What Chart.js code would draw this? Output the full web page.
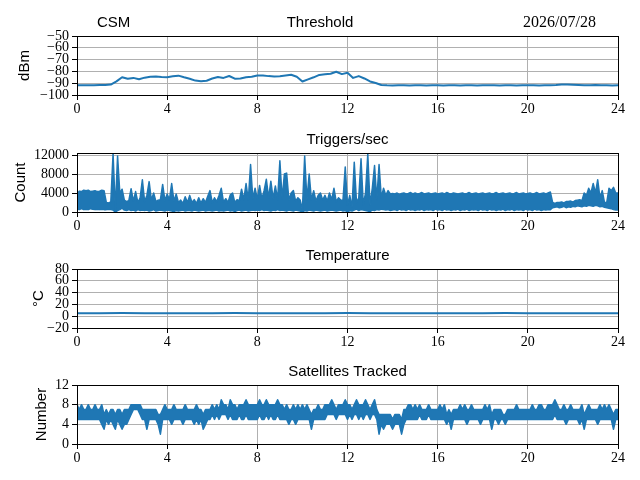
<!DOCTYPE html>
<html>
<head>
<meta charset="utf-8">
<script src="https://cdn.jsdelivr.net/npm/chart.js@4/dist/chart.umd.min.js"></script>
<style>
    body { margin: 0; background: #fff; }
    #wrap { position: relative; width: 640px; height: 480px; }
    canvas { position: absolute; left: 0; }
</style>
</head>
<body>
<div id="wrap">
    <canvas id="c0" width="640" height="116" style="top:0px"></canvas>
    <canvas id="c1" width="640" height="116" style="top:117px"></canvas>
    <canvas id="c2" width="640" height="116" style="top:233px"></canvas>
    <canvas id="c3" width="640" height="116" style="top:349px"></canvas>
</div>
<script>
// Eix horitzontal (hores del dia)
const hourTicks = [0, 4, 8, 12, 16, 20, 24];

// Threshold (dBm), una mostra cada 0.25 h
const thresholdStep = 0.25;
const thresholdValues = [
    -91.7, -91.8, -91.7, -91.8, -91.6, -91.5, -91.2, -88.5, -85.0, -86.3,
    -85.5, -86.6, -85.3, -84.5, -84.4, -84.8, -84.9, -84.2, -83.6, -85.0,
    -86.2, -87.8, -88.3, -87.9, -86.0, -84.8, -85.5, -83.9, -86.2, -86.0,
    -85.0, -84.5, -83.4, -83.5, -84.0, -84.3, -84.1, -83.5, -82.8, -84.5,
    -88.6, -86.8, -85.0, -83.0, -82.5, -82.0, -80.3, -82.3, -81.2, -85.5,
    -84.0, -86.0, -88.5, -89.8, -91.5, -91.8, -91.9, -91.7, -91.8, -91.9,
    -91.8, -91.7, -91.9, -91.8, -91.8, -91.9, -91.7, -91.8, -91.9, -91.8,
    -91.8, -91.9, -91.7, -91.8, -91.8, -91.9, -91.8, -91.7, -91.9, -91.8,
    -91.8, -91.7, -91.9, -91.8, -91.7, -91.6, -91.2, -91.1, -91.3, -91.5,
    -91.7, -91.8, -91.6, -91.7, -91.8, -91.9, -91.8
];
const thresholdTicks = [-100, -90, -80, -70, -60, -50];

// Triggers/sec: envolupant superior i inferior, una mostra cada 0.1 h
const triggersStep = 0.1;
const triggersHigh = [
    3800, 4400, 4300, 4600, 4500, 4600, 4300, 4400, 4500, 4300,
    4400, 4600, 4500, 2000, 1900, 2100, 12300, 500, 11800, 4000,
    4800, 2500, 2200, 2400, 4900, 2300, 4300, 2000, 3000, 6800,
    2200, 3500, 6400, 2500, 4000, 2200, 2500, 2600, 5800, 2400,
    3800, 2600, 6000, 2300, 3800, 2000, 2500, 1800, 3200, 2000,
    3500, 2000, 2600, 1800, 3000, 1900, 2800, 2000, 3300, 4500,
    2000, 3000, 2200, 3500, 5000, 2100, 2800, 2000, 3600, 4000,
    2000, 2600, 2400, 4800, 2600, 6000, 2500, 10000, 2800, 5000,
    2700, 5600, 2800, 4500, 6900, 3000, 6500, 2800, 5500, 2600,
    10800, 2800, 8000, 8200, 2500, 4000, 4500, 2300, 3000, 2500,
    500, 11800, 2500, 8000, 2600, 4500, 2300, 3500, 4000, 2500,
    3500, 2300, 4000, 2600, 5000, 2200, 3000, 2500, 2500, 9500,
    1500, 3500, 1000, 10500, 2000, 3000, 11200, 1500, 4000, 12200,
    1500, 5000, 9800, 2600, 10000, 3000, 5000, 3500, 4500, 3800,
    3900, 3800, 4000, 3700, 3900, 4000, 3800, 3900, 4100, 3800,
    4000, 3800, 3900, 4100, 3800, 3900, 4000, 3800, 3900, 4000,
    3800, 3900, 4000, 3800, 4100, 3900, 3800, 4000, 3900, 3800,
    3900, 4000, 3800, 3900, 4100, 3800, 3900, 4000, 3800, 3900,
    4000, 3800, 3900, 4000, 3800, 3900, 4100, 3800, 3900, 4000,
    3800, 3900, 4000, 3800, 3900, 4100, 3800, 3900, 4000, 3800,
    3900, 4000, 3800, 3900, 4100, 3800, 3900, 4000, 3800, 4000,
    4200, 2000, 1800, 2000, 2000, 2100, 1900, 2200, 2200, 2300,
    2100, 2400, 2500, 2600, 2400, 4000, 3500, 5000, 4000, 6000,
    4000, 6800, 3000, 4500, 2000, 2000, 5000, 4500, 5200, 4000,
    4000
];
const triggersLow = [
    600, 500, 700, 500, 600, 500, 700, 600, 500, 600,
    500, 600, 500, 500, 600, 500, 400, 0, 300, 500,
    800, 400, 300, 500, 300, 400, 200, 500, 300, 400,
    300, 400, 200, 300, 500, 200, 300, 400, 300, 200,
    400, 300, 200, 100, 300, 200, 300, 400, 200, 300,
    300, 200, 400, 300, 200, 300, 400, 200, 300, 300,
    200, 300, 400, 200, 300, 200, 300, 400, 200, 300,
    100, 300, 400, 200, 300, 400, 200, 300, 400, 300,
    400, 300, 500, 300, 400, 300, 200, 400, 300, 500,
    300, 400, 300, 200, 400, 300, 200, 400, 300, 200,
    0, 300, 200, 400, 300, 200, 400, 300, 200, 300,
    400, 200, 300, 400, 300, 200, 300, 400, 200, 300,
    0, 300, 200, 400, 600, 300, 500, 400, 300, 200,
    100, 400, 300, 500, 400, 600, 500, 400, 500, 300,
    400, 500, 300, 600, 400, 500, 300, 600, 400, 500,
    300, 500, 400, 600, 300, 500, 400, 500, 300, 600,
    400, 500, 300, 600, 400, 500, 300, 500, 400, 600,
    300, 500, 400, 600, 300, 500, 400, 500, 300, 600,
    400, 500, 300, 600, 400, 500, 300, 500, 400, 600,
    300, 500, 400, 600, 300, 500, 400, 500, 300, 600,
    400, 500, 300, 600, 400, 500, 300, 500, 400, 500,
    500, 900, 1000, 1100, 900, 1000, 1200, 900, 1100, 1000,
    1200, 1100, 1300, 1200, 1100, 1300, 1200, 1400, 1300, 1200,
    1400, 1300, 1100, 1200, 1000, 900, 800, 700, 500, 400,
    400
];
const triggersTicks = [0, 4000, 8000, 12000];

// Temperatura (°C), una mostra cada hora
const tempStep = 1;
const tempValues = [
    5.2, 5.1, 5.3, 5.2, 5.0, 5.1, 5.2, 5.3, 5.2, 5.1,
    5.0, 5.2, 5.3, 5.2, 5.1, 5.2, 5.0, 5.1, 5.2, 5.3,
    5.2, 5.1, 5.2, 5.0, 5.1
];
const tempTicks = [-20, 0, 20, 40, 60, 80];

// Satèl·lits seguits: envolupant superior i inferior, una mostra cada 0.1 h
const satStep = 0.1;
const satHigh = [
    8, 7, 8, 7, 7, 8, 7, 7, 8, 7,
    7, 8, 6, 7, 6, 7, 7, 6, 7, 7,
    6, 7, 7, 7, 8, 8, 8, 8, 8, 7,
    7, 7, 7, 7, 7, 7, 6, 6, 7, 8,
    7, 7, 7, 8, 7, 7, 7, 7, 8, 7,
    7, 7, 7, 8, 7, 7, 6, 7, 7, 7,
    8, 7, 8, 7, 9, 8, 8, 7, 9, 8,
    8, 7, 8, 8, 8, 9, 8, 8, 8, 8,
    8, 9, 8, 8, 9, 8, 8, 8, 8, 9,
    8, 8, 7, 8, 7, 7, 8, 7, 8, 7,
    8, 7, 8, 7, 6, 7, 7, 8, 7, 7,
    8, 8, 8, 9, 8, 7, 8, 8, 8, 9,
    8, 8, 7, 8, 9, 8, 8, 8, 9, 8,
    7, 8, 9, 7, 6, 6, 6, 6, 6, 6,
    5, 6, 6, 6, 5, 7, 7, 8, 8, 7,
    8, 7, 8, 7, 7, 7, 8, 7, 7, 7,
    7, 8, 7, 8, 6, 7, 6, 7, 7, 7,
    8, 7, 8, 7, 7, 8, 7, 7, 7, 7,
    7, 8, 7, 8, 6, 7, 7, 7, 7, 6,
    6, 7, 7, 7, 7, 8, 7, 7, 7, 7,
    7, 7, 8, 7, 7, 8, 8, 7, 7, 8,
    8, 8, 9, 8, 7, 7, 8, 7, 7, 8,
    7, 7, 7, 7, 8, 6, 7, 8, 7, 7,
    7, 7, 8, 7, 8, 7, 8, 7, 6, 7,
    7
];
const satLow = [
    5, 5, 5, 5, 5, 5, 5, 5, 5, 5,
    5, 4, 3, 5, 4, 5, 4, 3, 5, 4,
    3, 4, 4, 5, 6, 7, 7, 7, 6, 5,
    5, 3, 5, 5, 5, 5, 4, 2, 5, 5,
    5, 5, 4, 5, 5, 5, 5, 4, 5, 5,
    5, 5, 4, 5, 4, 5, 3, 4, 5, 5,
    6, 5, 6, 5, 6, 6, 6, 5, 6, 5,
    5, 5, 6, 5, 5, 6, 5, 5, 5, 5,
    5, 6, 5, 5, 6, 5, 6, 5, 5, 6,
    5, 5, 5, 5, 4, 5, 5, 4, 5, 5,
    5, 5, 5, 5, 3, 5, 5, 5, 5, 5,
    5, 6, 6, 6, 6, 5, 6, 6, 6, 6,
    5, 6, 5, 6, 6, 5, 6, 5, 6, 6,
    5, 6, 6, 5, 2, 4, 3, 4, 4, 4,
    3, 4, 4, 4, 2, 4, 5, 5, 5, 5,
    5, 5, 6, 5, 5, 5, 6, 5, 5, 5,
    5, 5, 5, 5, 4, 5, 3, 5, 5, 5,
    5, 5, 5, 4, 5, 5, 5, 5, 5, 4,
    5, 5, 5, 5, 3, 5, 5, 4, 5, 5,
    4, 5, 5, 5, 5, 5, 5, 5, 5, 5,
    5, 5, 5, 5, 5, 5, 5, 5, 5, 5,
    5, 5, 6, 5, 5, 5, 5, 4, 5, 5,
    5, 5, 5, 4, 5, 3, 5, 5, 5, 5,
    5, 4, 5, 5, 5, 5, 5, 5, 3, 5,
    5
];
const satTicks = [0, 4, 8, 12];

Chart.defaults.font.family = "'Liberation Serif', serif";
Chart.defaults.font.size = 14;
Chart.defaults.color = "#000";

const lineColor = "#1f77b4";
const sansFont = "15px 'Liberation Sans', sans-serif";

// Dibuixa el marc, els títols i l'etiqueta de l'eix Y
const panelPlugin = {
    id: "panel",
    afterDraw(chart, args, opts) {
        const ctx = chart.ctx;
        const a = chart.chartArea;
        ctx.save();
        ctx.strokeStyle = "#000";
        ctx.lineWidth = 1;
        ctx.strokeRect(Math.round(a.left) + 0.5, Math.round(a.top) + 0.5,
            Math.round(a.right - a.left), Math.round(a.bottom - a.top));

        ctx.fillStyle = "#000";
        ctx.textBaseline = "alphabetic";
        ctx.font = sansFont;
        ctx.textAlign = "center";
        ctx.fillText(opts.title, opts.titleX || (a.left + a.right) / 2, a.top - 9);
        if (opts.leftText) {
            ctx.textAlign = "left";
            ctx.fillText(opts.leftText, 97, a.top - 9);
        }
        if (opts.rightText) {
            ctx.font = "16px 'Liberation Serif', serif";
            ctx.textAlign = "right";
            ctx.fillText(opts.rightText, 596, a.top - 9);
        }

        // Amplada de l'etiqueta de tick més llarga
        const yScale = chart.scales.y;
        ctx.font = "14px 'Liberation Serif', serif";
        let maxW = 0;
        yScale.ticks.forEach((t) => {
            maxW = Math.max(maxW, ctx.measureText(t.label).width);
        });
        const lx = opts.yLabelX || (a.left - 8 - maxW - 13);
        ctx.translate(lx, (a.top + a.bottom) / 2);
        ctx.rotate(-Math.PI / 2);
        ctx.font = sansFont;
        ctx.textAlign = "center";
        ctx.textBaseline = "middle";
        ctx.fillText(opts.yLabel, 0, 0);
        ctx.restore();
    }
};

function minusSign(v) {
    return String(v).replace("-", "\u2212");
}

function toPoints(values, step) {
    return values.map((v, i) => ({ x: i * step, y: v }));
}

function lineSet(values, step, fill, width) {
    return {
        data: toPoints(values, step),
        borderColor: lineColor,
        backgroundColor: lineColor,
        borderWidth: width,
        borderJoinStyle: "round",
        pointRadius: 0,
        fill: fill,
        tension: 0
    };
}

function makePanel(id, datasets, yMin, yMax, yTicks, texts) {
    return new Chart(document.getElementById(id), {
        type: "line",
        data: { datasets: datasets },
        options: {
            responsive: false,
            animation: false,
            events: [],
            layout: { padding: { top: 36, right: 22, left: 0, bottom: 0 } },
            plugins: {
                legend: { display: false },
                tooltip: { enabled: false },
                panel: texts
            },
            scales: {
                x: {
                    type: "linear",
                    min: 0,
                    max: 24,
                    afterBuildTicks: (scale) => {
                        scale.ticks = hourTicks.map((v) => ({ value: v }));
                    },
                    afterFit: (scale) => { scale.height = 21; },
                    ticks: { padding: 1, maxRotation: 0, autoSkip: false, callback: (v) => String(v) },
                    grid: { color: "#b0b0b0", lineWidth: 1, tickLength: 5, tickColor: "#000" },
                    border: { color: "#000", width: 1 }
                },
                y: {
                    min: yMin,
                    max: yMax,
                    afterBuildTicks: (scale) => {
                        scale.ticks = yTicks.map((v) => ({ value: v }));
                    },
                    afterFit: (scale) => { scale.width = 77; },
                    ticks: { padding: 3, autoSkip: false, callback: (v) => minusSign(v) },
                    grid: { color: "#b0b0b0", lineWidth: 1, tickLength: 5, tickColor: "#000" },
                    border: { color: "#000", width: 1 }
                }
            }
        },
        plugins: [panelPlugin]
    });
}

makePanel("c0", [lineSet(thresholdValues, thresholdStep, false, 2)], -100, -50, thresholdTicks,
    { title: "Threshold", titleX: 320, leftText: "CSM", rightText: "2026/07/28", yLabel: "dBm", yLabelX: 25 });
makePanel("c1", [lineSet(triggersHigh, triggersStep, "+1", 1.5), lineSet(triggersLow, triggersStep, false, 1.5)],
    0, 12430, triggersTicks,
    { title: "Triggers/sec", yLabel: "Count" });
makePanel("c2", [lineSet(tempValues, tempStep, false, 2)], -20, 80, tempTicks,
    { title: "Temperature", yLabel: "\u00b0C", yLabelX: 39 });
makePanel("c3", [lineSet(satHigh, satStep, "+1", 1.5), lineSet(satLow, satStep, false, 1.5)], 0, 12, satTicks,
    { title: "Satellites Tracked", yLabel: "Number" });
</script>
</body>
</html>
